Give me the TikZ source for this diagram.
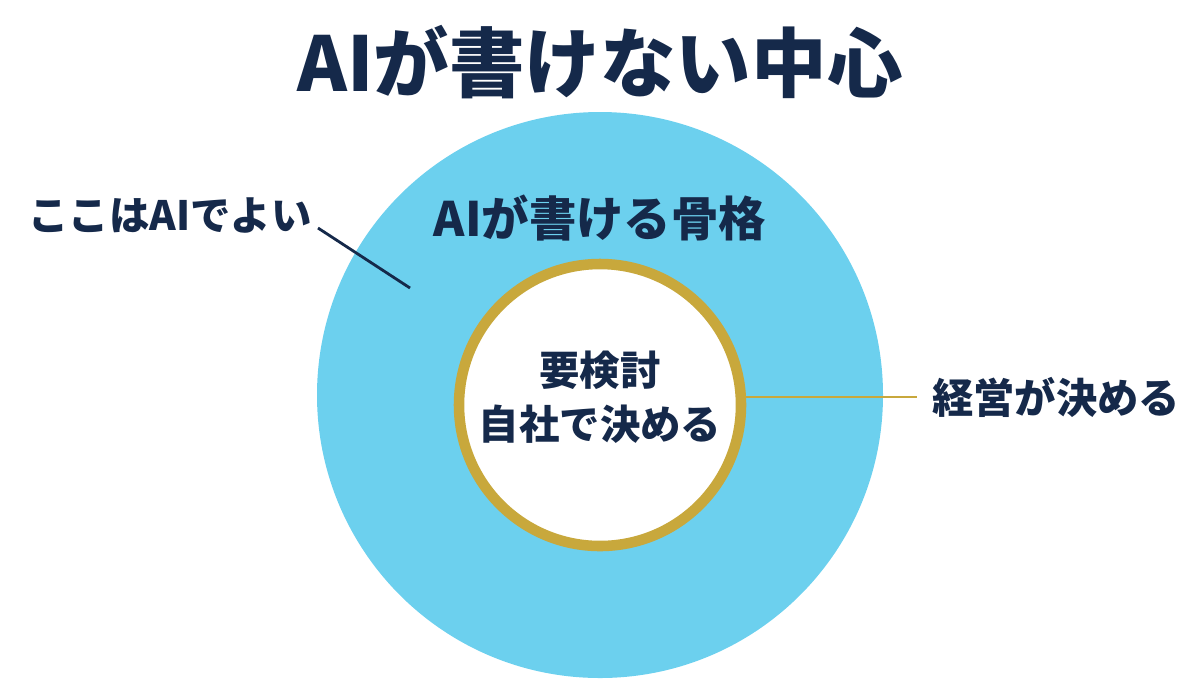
\documentclass[tikz,border=0pt]{standalone}
\usepackage{fontspec}
\newfontfamily\cjk{Noto Sans CJK JP}
\usetikzlibrary{positioning}
\definecolor{navy}{HTML}{15294A}
\definecolor{skyblue}{HTML}{6CD0EE}
\definecolor{ringgold}{HTML}{C8A83C}
\tikzset{
    every node/.style={font=\cjk\bfseries, text=navy, inner sep=0mm},
    label text/.style={font=\cjk\bfseries\fontsize{23}{27}\selectfont},
    leader/.style={line width=1.6pt}
}
\begin{document}
\begin{tikzpicture}[x=0.02cm, y=-0.02cm]
        \useasboundingbox (0,0) rectangle (1200,691);
        \node (outer) [circle, fill=skyblue, minimum size=566*0.02cm] at (600,395) {};
        \node (inner) [circle, fill=white, draw=ringgold, line width=6pt, minimum size=282*0.02cm] at (600,405) {};
        \node (title) [font=\cjk\bfseries\fontsize{43}{48}\selectfont] at (600,62) {AIが書けない中心};
        \node (frame) [font=\cjk\bfseries\fontsize{27}{31}\selectfont] at (600,218) {AIが書ける骨格};
        \node (check) [label text] at (600,370) {要検討};
        \node (own) [label text, below=0.3cm of check] {自社で決める};
        \node (ok) [label text, anchor=west] at (28,215) {ここはAIでよい};
        \node (mgmt) [label text, font=\cjk\bfseries\fontsize{23.5}{27}\selectfont, anchor=west] at (932,397) {経営が決める};
        \coordinate (okend) at (410,288);
        \coordinate (okstart) at (318,228);
        \draw [leader, navy] (okstart) -- (okend);
        \draw [leader, ringgold] (inner.east |- mgmt.west) -- ([xshift=-0.3cm]mgmt.west);
\end{tikzpicture}
\end{document}
